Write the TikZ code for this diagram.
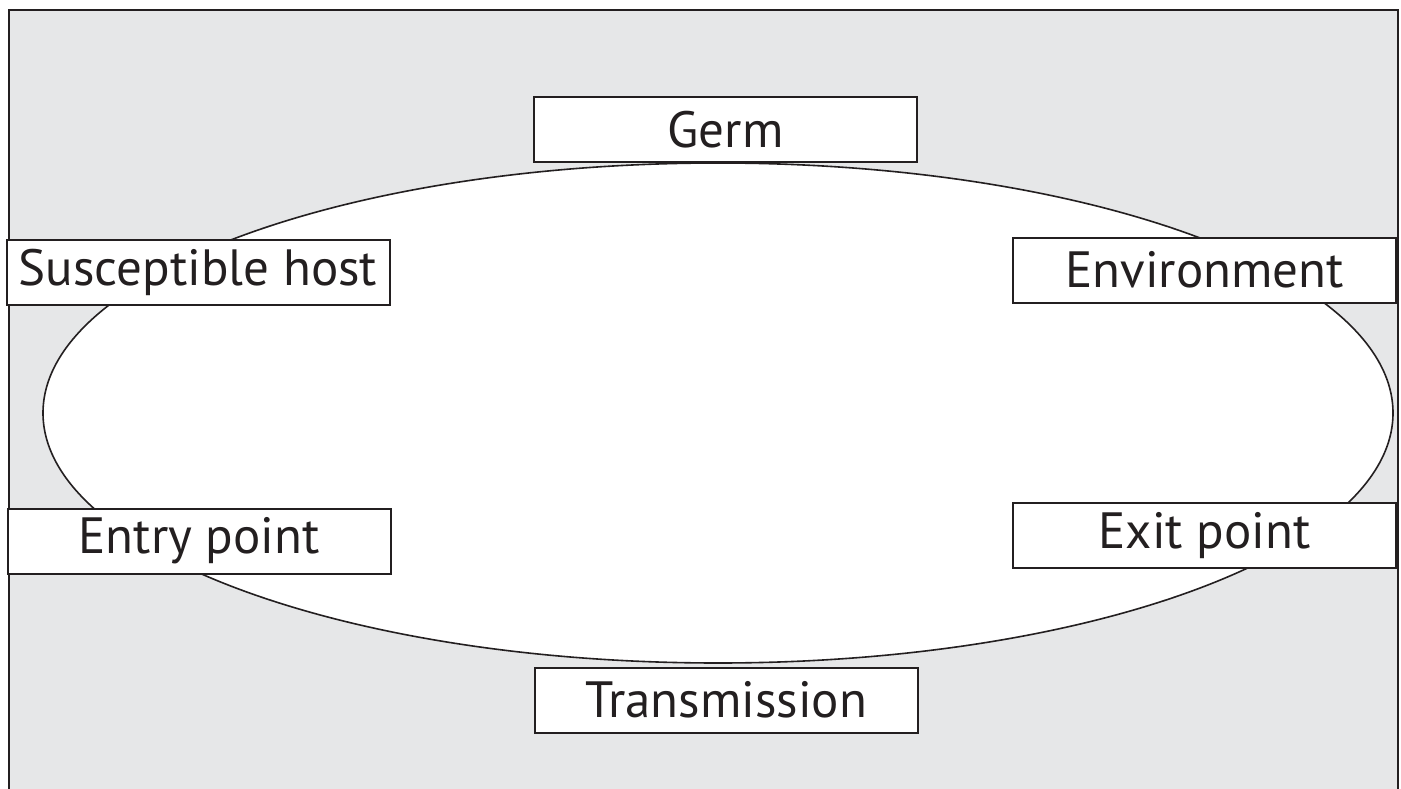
\documentclass[tikz,border=0pt]{standalone}
\usepackage{fontspec}
\setmainfont{PT Sans}
\usepackage{tikz}
\definecolor{bggray}{HTML}{E6E7E8}
\definecolor{inkline}{HTML}{231F20}

\begin{document}
\begin{tikzpicture}[x=1pt, y=-1pt,
                    labelbox/.style={draw=inkline, line width=2pt, fill=white, text=inkline,
                                     minimum width=383pt, minimum height=65pt, inner sep=0pt,
                                     font=\fontsize{51}{55}\selectfont}]
                    \useasboundingbox (0, 0) rectangle (1401, 789);
                    \begin{scope}
                    \clip (0, 0) rectangle (1401, 789);
                    \draw[color=inkline, fill=bggray, line width=2.8pt] (9, 10) rectangle (1398, 820);
                    \end{scope}
                    \draw[color=inkline, fill=white, line width=1.6pt] (718, 413) ellipse (675 and 250);

                    \node[labelbox] (germ) at (725.5, 130) {Germ};
                    \node[labelbox] (host) at (198, 272.5) {Susceptible host};
                    \node[labelbox] (environment) at (1204.5, 270) {Environment};
                    \node[labelbox] (entry) at (199, 541) {Entry point};
                    \node[labelbox] (exit) at (1204.5, 535.5) {Exit point};
                    \node[labelbox] (transmission) at (726, 700) {Transmission};
                \end{tikzpicture}
\end{document}
